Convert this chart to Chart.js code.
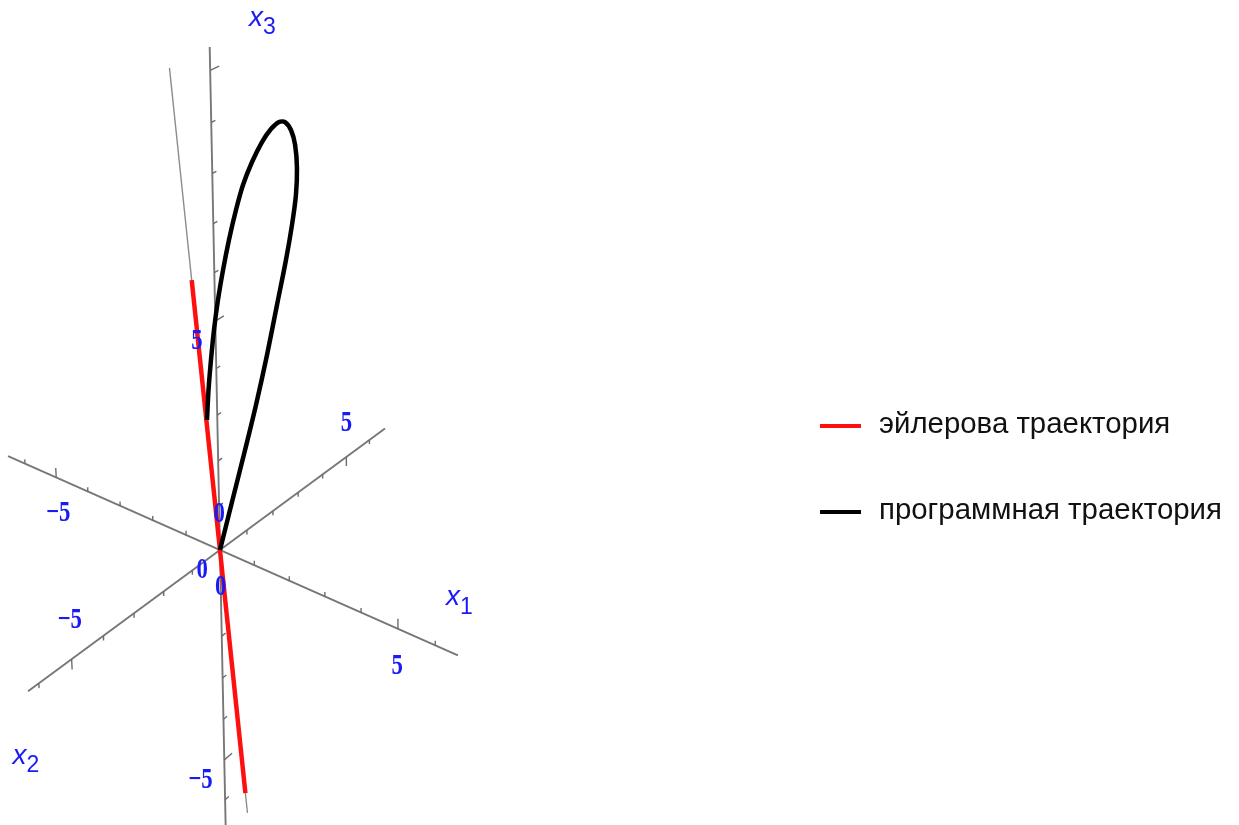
<!DOCTYPE html>
<html>
<head>
<meta charset="utf-8">
<script src="https://cdn.jsdelivr.net/npm/chart.js@4.4.1/dist/chart.umd.min.js"></script>
<style>
  html, body { margin: 0; padding: 0; background: #ffffff; }
  canvas { display: block; }
</style>
</head>
<body>
<canvas id="chart" width="1239" height="825"></canvas>
<script>
// ---- data: points are (x1, x2, x3) ----
const programPath = [
  [0, 0, 0],
  [0.440, -0.076, 1.265],
  [0.903, -0.155, 2.591],
  [1.282, -0.222, 3.701],
  [1.658, -0.293, 4.887],
  [1.995, -0.362, 6.030],
  [2.290, -0.422, 7.030],
  [2.488, -0.467, 7.783],
  [2.624, -0.505, 8.409],
  [2.678, -0.537, 8.946],
  [2.652, -0.563, 9.388],
  [2.561, -0.579, 9.643],
  [2.415, -0.585, 9.758],
  [2.258, -0.583, 9.719],
  [2.041, -0.572, 9.532],
  [1.789, -0.553, 9.219],
  [1.499, -0.525, 8.758],
  [1.226, -0.494, 8.236],
  [1.001, -0.461, 7.679],
  [0.765, -0.421, 7.011],
  [0.554, -0.380, 6.337],
  [0.365, -0.340, 5.660],
  [0.203, -0.299, 4.980],
  [0.066, -0.258, 4.297],
  [-0.057, -0.216, 3.607],
  [-0.155, -0.175, 2.915]
];
const eulerPath = [
  [0.35, 0.35, -5.89],
  [-0.35, -0.35, 5.87]
];
const eulerAxisLine = [
  [0.38, 0.38, -6.40],
  [-0.60, -0.60, 10.06]
];
const seriesNames = ['эйлерова траектория', 'программная траектория'];
const seriesColors = ['#ff1010', '#000000'];

const x1Range = [-6.55, 6.6];
const x2Range = [-6.32, 6.69];
const x3Range = [-6.8, 10.44];
const x1Ticks = [-6, -5, -4, -3, -2, -1, 1, 2, 3, 4, 5, 6];
const x2Ticks = [-6, -5, -4, -3, -2, -1, 1, 2, 3, 4, 5, 6];
const x3Ticks = [-6, -5, -4, -3, -2, -1, 1, 2, 3, 4, 5, 6, 7, 8, 9, 10];
const majorTicks = [-5, 5, 10];
const labelledTicks = [-5, 0, 5];
const axisSubscripts = ['1', '2', '3'];

// ---- view: oblique perspective camera ----
const VIEW = {
  e: [[0.7785, -0.3447], [0.6233, 0.4589], [-0.0205, 1.0]],
  k: [0.0082, -0.016, 0.0087]
};
function project(p) {
  const w = 1 - (VIEW.k[0] * p[0] + VIEW.k[1] * p[1] + VIEW.k[2] * p[2]);
  let x = 0, y = 0;
  for (let i = 0; i < 3; i++) { x += p[i] * VIEW.e[i][0]; y += p[i] * VIEW.e[i][1]; }
  return { x: x / w, y: y / w };
}
const GAP = { x: null, y: null };
const unit = i => [0, 1, 2].map(j => (j === i ? 1 : 0));
const add = (a, b, s) => a.map((v, j) => v + b[j] * s);

function axisSegment(i, range) {
  const u = unit(i);
  return [project(add([0, 0, 0], u, range[0])), project(add([0, 0, 0], u, range[1]))];
}
// tick marks: x1 ticks point along +x3, x2 along -x3, x3 along +x2
const tickDir = [[0, 0, 1], [0, 0, -1], [0, 1, 0]];
const tickLen = [[0.10, 0.22], [0.10, 0.22], [0.14, 0.30]];
function tickSegments(i, ticks) {
  const out = [];
  const u = unit(i);
  ticks.forEach(t => {
    const base = add([0, 0, 0], u, t);
    const len = majorTicks.includes(t) ? tickLen[i][1] : tickLen[i][0];
    out.push(project(base), project(add(base, tickDir[i], len)), GAP);
  });
  return out;
}

const axisPoints = [
  ...axisSegment(0, x1Range), GAP,
  ...axisSegment(1, x2Range), GAP,
  ...axisSegment(2, x3Range)
];
const tickPoints = [
  ...tickSegments(0, x1Ticks),
  ...tickSegments(1, x2Ticks),
  ...tickSegments(2, x3Ticks)
];

// ---- labels (3D anchors); x3 labels are right-aligned to their anchor ----
const labelOffset = [[0, 0, -0.85], [0, 0, 0.82], [0, -0.45, -0.25]];
const labelAlign = ['center', 'center', 'right'];
const tickLabelItems = [];
[0, 1, 2].forEach(i => {
  labelledTicks.forEach(t => {
    const anchor = add(add([0, 0, 0], unit(i), t), labelOffset[i], 1);
    tickLabelItems.push({ p: anchor, align: labelAlign[i], text: t < 0 ? '\u2212' + Math.abs(t) : String(t) });
  });
});
const axisNameAnchors = [[6.6, 0, 1.2], [0, -6.5, -1.35], [0, 1.8, 10.5]];

const S = 43.8; // pixels per view unit
const ORIGIN = { x: 220, y: 550 };
const W = 1239, H = 825;
const LABEL_BLUE = '#1a1af4';

const labelsPlugin = {
  id: 'axisLabels',
  afterDatasetsDraw(chart) {
    const ctx = chart.ctx;
    const sx = chart.scales.x, sy = chart.scales.y;
    const px = p => { const q = project(p); return { x: sx.getPixelForValue(q.x), y: sy.getPixelForValue(q.y) }; };
    ctx.save();
    ctx.fillStyle = LABEL_BLUE;
    ctx.textBaseline = 'middle';
    ctx.font = 'bold 30px "Liberation Serif", "DejaVu Serif", serif';
    const squeeze = 0.76;
    tickLabelItems.forEach(item => {
      const q = px(item.p);
      ctx.save();
      ctx.translate(q.x, q.y);
      ctx.scale(squeeze, 1);
      ctx.textAlign = item.align;
      ctx.fillText(item.text, 0, 0);
      ctx.restore();
    });
    const mainFont = 'italic 28px "Liberation Sans", Arial, sans-serif';
    const subFont = '23px "Liberation Sans", Arial, sans-serif';
    axisNameAnchors.forEach((a, i) => {
      const q = px(a);
      ctx.font = mainFont;
      const wx = ctx.measureText('x').width;
      ctx.font = subFont;
      const ws = ctx.measureText(axisSubscripts[i]).width;
      const left = q.x - (wx + ws) / 2;
      ctx.textAlign = 'left';
      ctx.font = mainFont;
      ctx.fillText('x', left, q.y - 3);
      ctx.font = subFont;
      ctx.fillText(axisSubscripts[i], left + wx, q.y + 7);
    });
    ctx.restore();
  }
};

const legendPlugin = {
  id: 'sideLegend',
  afterDraw(chart) {
    const ctx = chart.ctx;
    const items = chart.data.datasets.filter(d => d.inLegend).sort((a, b) => a.legendIndex - b.legendIndex);
    ctx.save();
    ctx.font = '29.4px "Liberation Sans", Arial, sans-serif';
    ctx.textBaseline = 'middle';
    ctx.textAlign = 'left';
    items.forEach((d, i) => {
      const y = 426 + i * 86;
      ctx.strokeStyle = d.borderColor;
      ctx.lineWidth = 4;
      ctx.beginPath();
      ctx.moveTo(820, y);
      ctx.lineTo(861, y);
      ctx.stroke();
      ctx.fillStyle = '#111111';
      ctx.fillText(d.label, 879, y - 1);
    });
    ctx.restore();
  }
};

new Chart(document.getElementById('chart'), {
  type: 'scatter',
  data: {
    datasets: [
      {
        label: seriesNames[1], inLegend: true, legendIndex: 1,
        data: programPath.map(project),
        showLine: true, borderColor: seriesColors[1], borderWidth: 4.5,
        tension: 0.3, pointRadius: 0, spanGaps: false
      },
      {
        label: seriesNames[0], inLegend: true, legendIndex: 0,
        data: eulerPath.map(project),
        showLine: true, borderColor: seriesColors[0], borderWidth: 4.5,
        pointRadius: 0
      },
      {
        label: 'euler axis',
        data: eulerAxisLine.map(project),
        showLine: true, borderColor: '#8c8c8c', borderWidth: 1.4, pointRadius: 0
      },
      {
        label: 'ticks',
        data: tickPoints,
        showLine: true, borderColor: '#6e6e6e', borderWidth: 1.4, pointRadius: 0, spanGaps: false
      },
      {
        label: 'axes',
        data: axisPoints,
        showLine: true, borderColor: '#777777', borderWidth: 1.9, pointRadius: 0, spanGaps: false
      }
    ]
  },
  options: {
    responsive: false,
    animation: false,
    devicePixelRatio: 1,
    layout: { padding: 0 },
    plugins: { legend: { display: false }, tooltip: { enabled: false } },
    scales: {
      x: { type: 'linear', display: false, min: -ORIGIN.x / S, max: (W - ORIGIN.x) / S },
      y: { type: 'linear', display: false, min: -(H - ORIGIN.y) / S, max: ORIGIN.y / S }
    }
  },
  plugins: [labelsPlugin, legendPlugin]
});
</script>
</body>
</html>
